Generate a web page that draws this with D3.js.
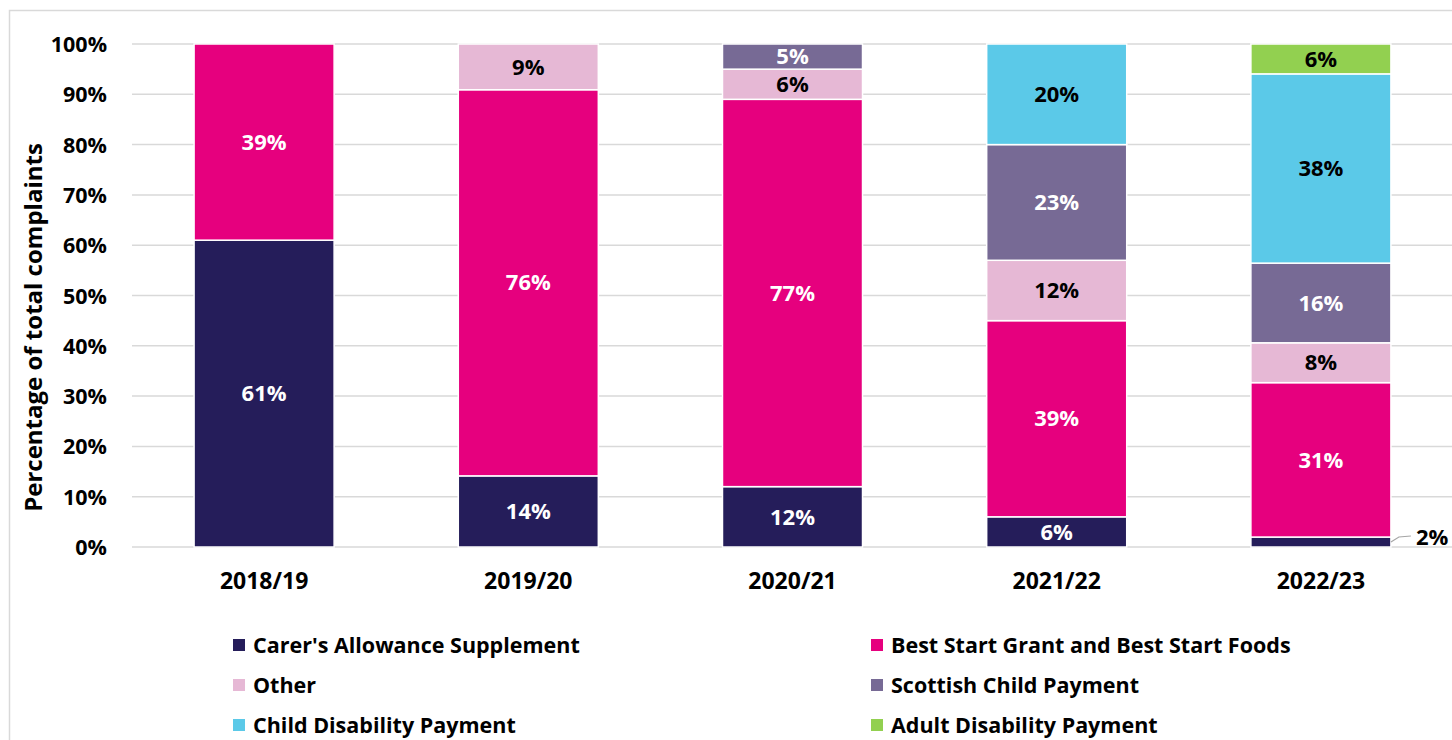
<!DOCTYPE html>
<html>
<head>
<meta charset="utf-8">
<script src="https://cdn.jsdelivr.net/npm/d3@7"></script>
<style>
  html, body { margin: 0; padding: 0; background: #fff; }
  svg { display: block; font-family: "Open Sans", Lato, sans-serif; font-weight: 700; }
</style>
</head>
<body>
<svg id="chart" width="1452" height="740"></svg>
<script>
// Complaints by benefit, share of each year's total
const years = ["2018/19", "2019/20", "2020/21", "2021/22", "2022/23"];
const seriesNames = [
  "Carer's Allowance Supplement",
  "Best Start Grant and Best Start Foods",
  "Other",
  "Scottish Child Payment",
  "Child Disability Payment",
  "Adult Disability Payment"
];
const carers        = [61, 14, 12, 6, 2];
const bestStart     = [39, 76, 77, 39, 31];
const other         = [0, 9, 6, 12, 8];
const scottishChild = [0, 0, 5, 23, 16];
const childDisab    = [0, 0, 0, 20, 38];
const adultDisab    = [0, 0, 0, 0, 6];
const yTicks = [0, 0.1, 0.2, 0.3, 0.4, 0.5, 0.6, 0.7, 0.8, 0.9, 1.0];

const colors = ["#251d5a", "#e6007e", "#e6b8d5", "#776a95", "#5bc9e8", "#92d050"];
const labelColors = ["#fff", "#fff", "#000", "#fff", "#000", "#000"];

const seriesValues = [carers, bestStart, other, scottishChild, childDisab, adultDisab];
const rows = years.map((y, i) => {
  const r = { year: y };
  seriesNames.forEach((s, k) => { r[s] = seriesValues[k][i]; });
  return r;
});

const FONT = "'Open Sans', Lato, sans-serif";
const svg = d3.select("#chart");

// outer chart frame
svg.append("rect")
  .attr("x", 9.5).attr("y", 10.5)
  .attr("width", 1460).attr("height", 760)
  .attr("fill", "none").attr("stroke", "#d9d9d9").attr("stroke-width", 1.5);

const plot = { left: 132, right: 1453, top: 44, bottom: 547 };

const x = d3.scaleBand().domain(years).range([plot.left, plot.right]).paddingInner(0.47).paddingOuter(0.235);
const y = d3.scaleLinear().domain([0, 1]).range([plot.bottom, plot.top]);

// gridlines
svg.append("g").selectAll("line").data(yTicks).join("line")
  .attr("x1", plot.left).attr("x2", 1452)
  .attr("y1", d => y(d)).attr("y2", d => y(d))
  .attr("stroke", "#d9d9d9").attr("stroke-width", 1.5);

// y axis tick labels
const yAxis = d3.axisLeft(y).tickValues(yTicks).tickFormat(d3.format(".0%")).tickSize(0).tickPadding(0);
const yg = svg.append("g").attr("transform", `translate(107,0)`).call(yAxis);
yg.select(".domain").remove();
yg.selectAll("text").attr("font-size", 21.5).attr("font-family", FONT)
  .attr("font-weight", 700).attr("fill", "#000").attr("dy", "0.35em");

// x axis labels
const xAxis = d3.axisBottom(x).tickSize(0).tickPadding(0);
const xg = svg.append("g").attr("transform", `translate(0,581)`).call(xAxis);
xg.select(".domain").remove();
xg.selectAll("text").attr("font-size", 23).attr("font-family", FONT)
  .attr("font-weight", 700).attr("fill", "#000").attr("dy", "0.35em");

// y axis title
svg.append("text")
  .attr("transform", `translate(42,${(plot.top + plot.bottom) / 2 + 32}) rotate(-90)`)
  .attr("text-anchor", "middle")
  .attr("font-size", 24)
  .attr("fill", "#000")
  .text("Percentage of total complaints");

// 100% stacked bars
const stack = d3.stack().keys(seriesNames).offset(d3.stackOffsetExpand);
const layers = stack(rows);

const gBars = svg.append("g");
layers.forEach((layer, k) => {
  const g = gBars.append("g");
  const segs = layer.map((d, i) => ({ d, i, v: seriesValues[k][i] })).filter(s => s.v > 0);
  g.selectAll("rect").data(segs).join("rect")
    .attr("x", s => x(years[s.i]))
    .attr("width", x.bandwidth())
    .attr("y", s => y(s.d[1]))
    .attr("height", s => y(s.d[0]) - y(s.d[1]))
    .attr("fill", colors[k])
    .attr("stroke", "#fff").attr("stroke-width", 1.5);
});

// value labels
layers.forEach((layer, k) => {
  layer.forEach((d, i) => {
    const v = seriesValues[k][i];
    if (v <= 0) return;
    const cx = x(years[i]) + x.bandwidth() / 2;
    const cy = (y(d[0]) + y(d[1])) / 2;
    if (v < 3) {
      // small segment: label placed outside with a leader line
      const x0 = x(years[i]) + x.bandwidth();
      svg.append("polyline")
        .attr("points", `${x0},${cy} ${x0 + 8},${cy - 5} ${x0 + 20},${cy - 6}`)
        .attr("fill", "none").attr("stroke", "#a6a6a6").attr("stroke-width", 1.2);
      svg.append("text")
        .attr("x", x0 + 25).attr("y", cy - 5)
        .attr("dy", "0.35em")
        .attr("font-size", 22).attr("fill", "#000")
        .text(v + "%");
    } else {
      svg.append("text")
        .attr("x", cx).attr("y", cy)
        .attr("dy", "0.35em")
        .attr("text-anchor", "middle")
        .attr("font-size", 22)
        .attr("fill", labelColors[k])
        .text(v + "%");
    }
  });
});

// legend: 3 rows x 2 columns
const legendPos = [
  [233, 645], [871, 645],
  [233, 685], [871, 685],
  [233, 725], [871, 725]
];
const lg = svg.append("g");
seriesNames.forEach((name, k) => {
  const [lx, ly] = legendPos[k];
  lg.append("rect").attr("x", lx).attr("y", ly - 6).attr("width", 12).attr("height", 12).attr("fill", colors[k]);
  lg.append("text").attr("x", lx + 20).attr("y", ly).attr("dy", "0.35em")
    .attr("font-size", 21.5).attr("fill", "#000").text(name);
});
</script>
</body>
</html>
